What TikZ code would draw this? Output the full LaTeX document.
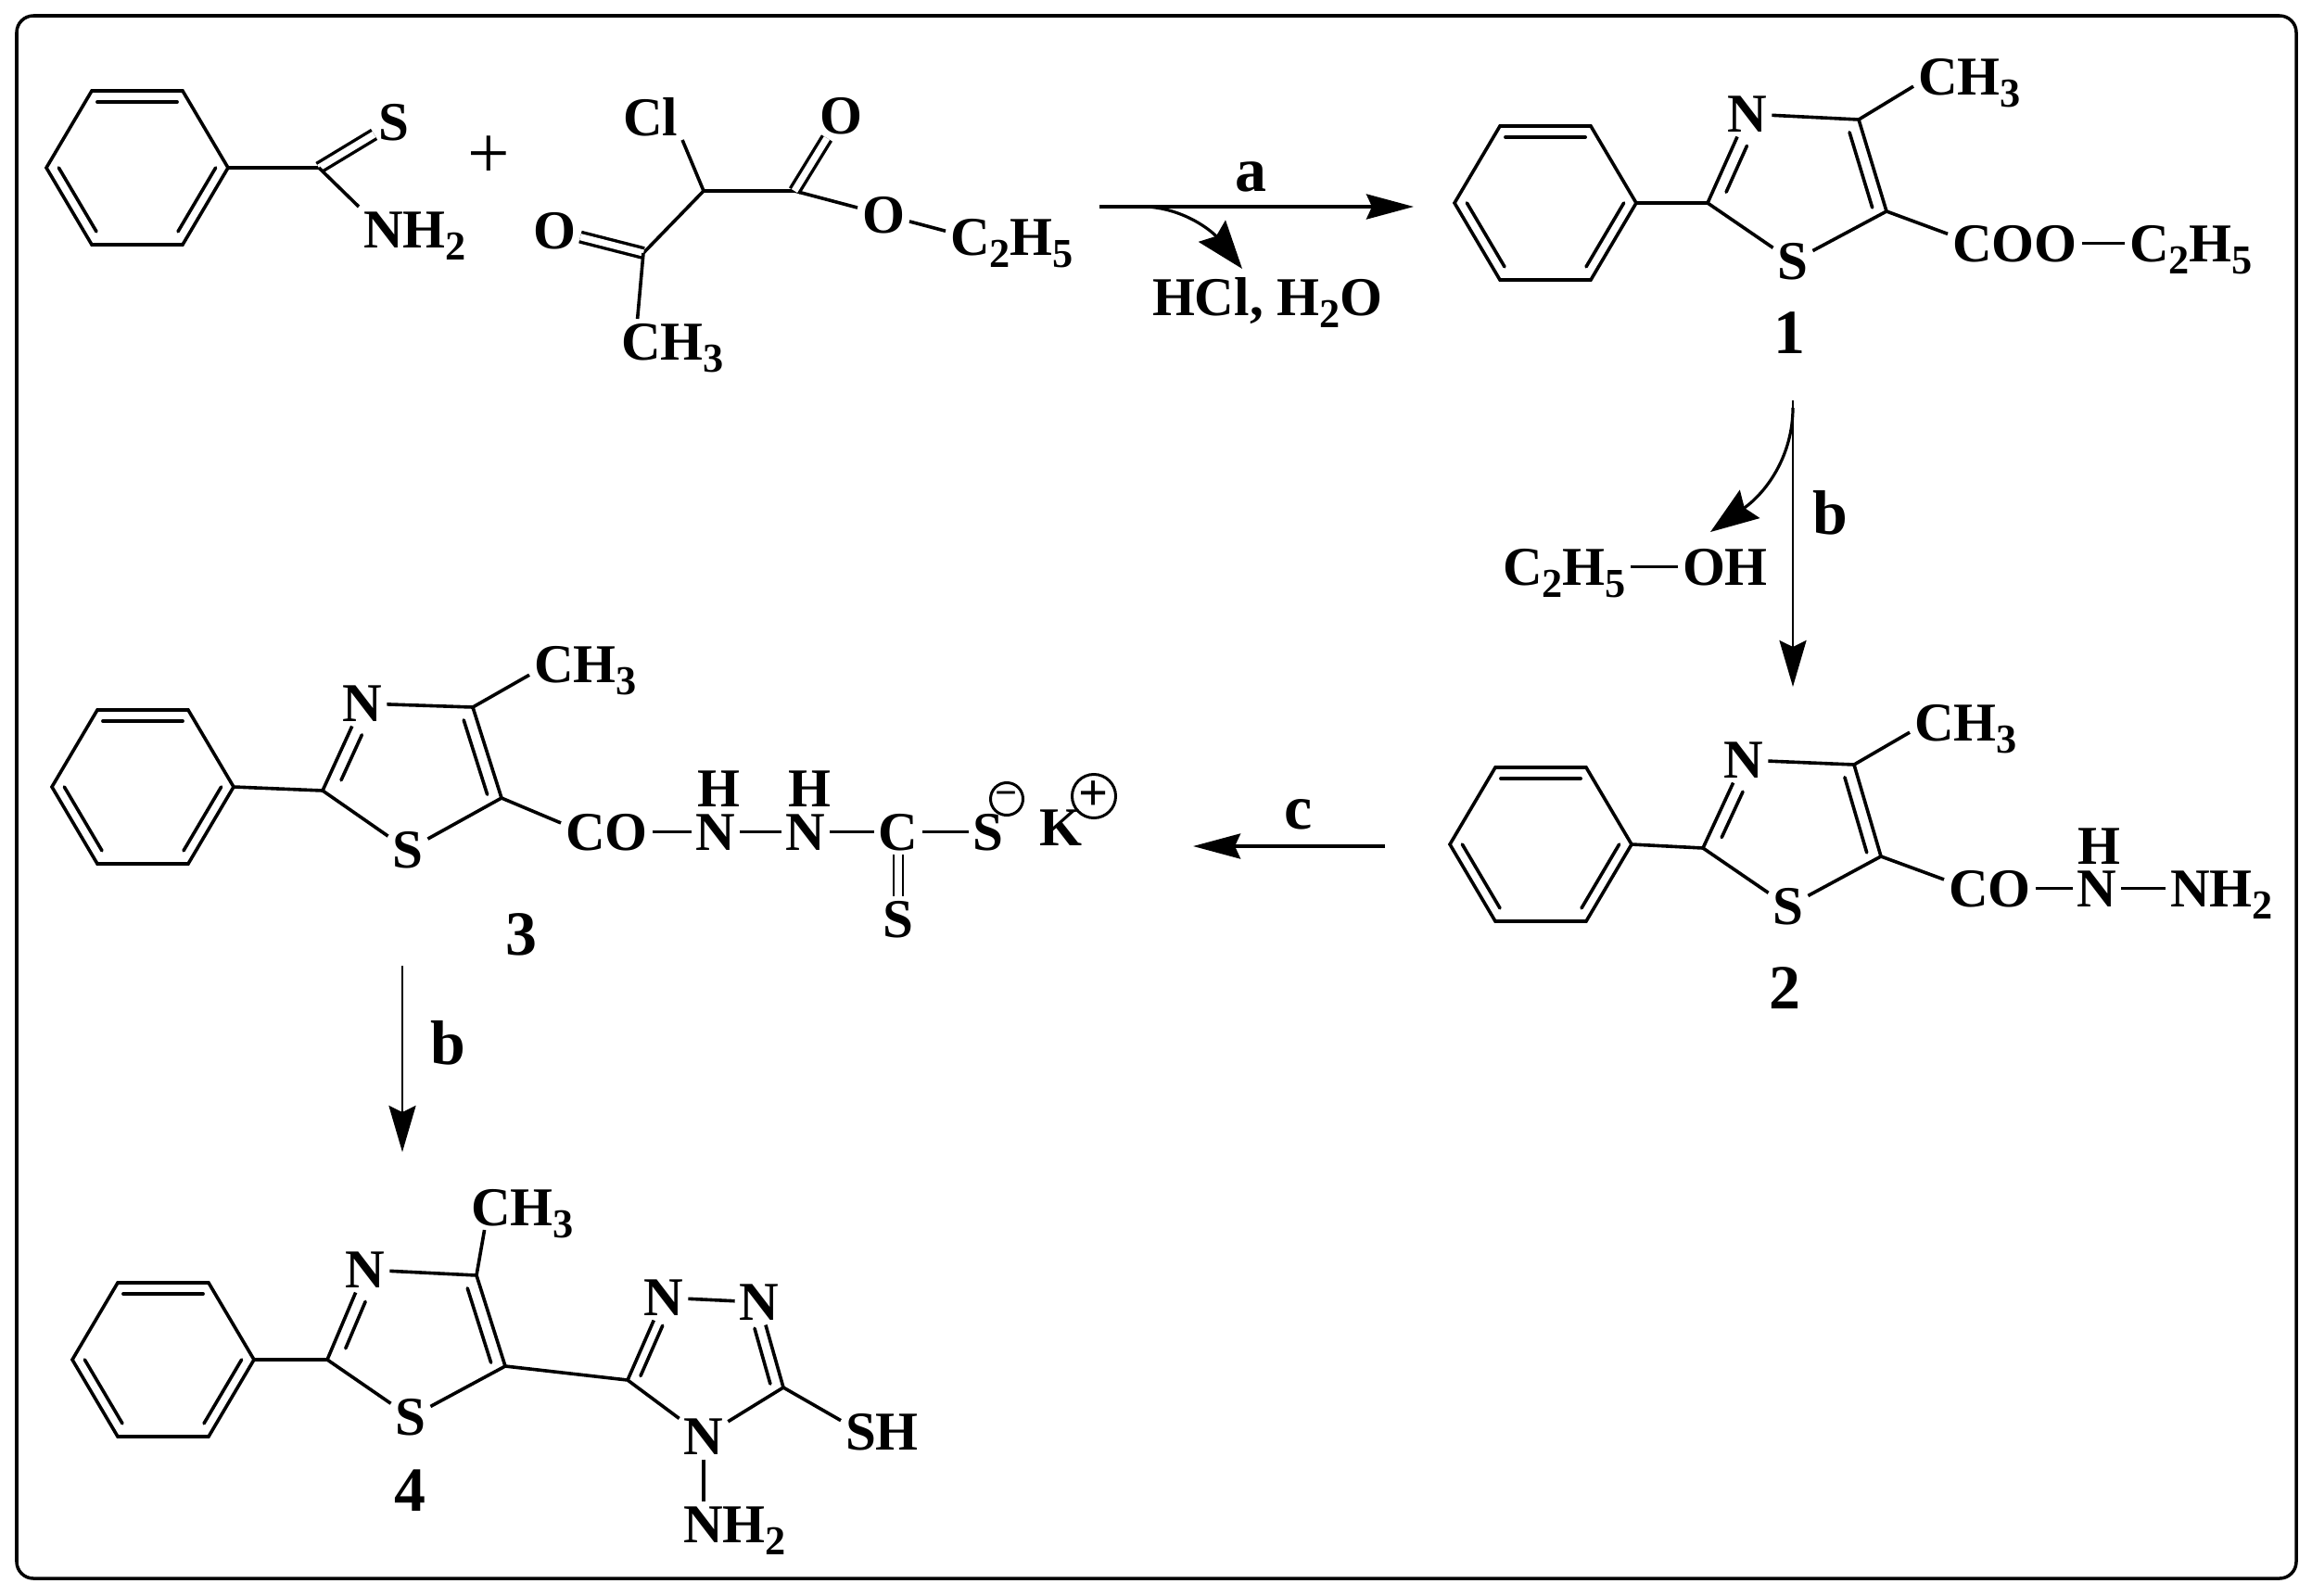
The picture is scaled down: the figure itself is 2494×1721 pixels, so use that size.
\documentclass[tikz,border=0pt]{standalone}
\usepackage{fontspec}
\setmainfont{Liberation Serif}
\usetikzlibrary{arrows.meta,calc}
\newcommand{\chemsub}[1]{\raisebox{-.22em}{\fontsize{12.6}{13}\selectfont #1}}
% inner line of a ring double bond
\newcommand{\ringdbl}[6][.135cm]{\draw[bond,line cap=round] ($(#2)!#4!(#3)!#1!#6:(#3)$) -- ($(#2)!#5!(#3)!#1!#6:(#3)$);}
\newcommand{\thiazole}[1]{
\draw[bond] (ph#1-r) -- (thz#1-c2) -- (thz#1-n);
\draw[bond] (thz#1-c2) -- (thz#1-s);
\draw[bond] (thz#1-s) -- (thz#1-c5) -- (thz#1-c4) -- (thz#1-n);
\ringdbl{thz#1-c2}{thz#1-n}{.18}{.7}{-90}
\ringdbl{thz#1-c4}{thz#1-c5}{.1}{.92}{-90}
}
\tikzset{
>=Stealth,
atom/.style={font=\fontsize{16.8}{20}\selectfont\bfseries,inner sep=.05cm,outer sep=0pt,text height=.39cm,text depth=0pt},
cmpd/.style={font=\fontsize{19.3}{22}\selectfont\bfseries,inner sep=0pt,anchor=base},
bond/.style={line width=.036cm},
dash bond/.style={line width=.038cm},
dbond/.style={line width=.034cm,double,double distance=.072cm},
thick arrow/.style={line width=.038cm,-{Stealth[length=.51cm,width=.27cm,inset=.06cm]}},
thin arrow/.style={line width=.028cm,-{Stealth[length=.5cm,width=.29cm,inset=.07cm]}},
side arrow/.style={line width=.032cm,-{Stealth[length=.52cm,width=.37cm,inset=.07cm]}},
charge/.style={circle,draw,line width=.03cm,inner sep=0pt,font=\bfseries},
frame/.style={line width=.035cm,rounded corners=.18cm},
pics/phring/.style={code={
\coordinate (-tl) at (-49,83);
\coordinate (-tr) at (49,83);
\coordinate (-r) at (98,0);
\coordinate (-br) at (49,-83);
\coordinate (-bl) at (-49,-83);
\coordinate (-l) at (-98,0);
\draw[bond] (-tl) -- (-tr) -- (-r) -- (-br) -- (-bl) -- (-l) -- cycle;
\ringdbl[.12cm]{-tl}{-tr}{.06}{.94}{-90}
\ringdbl[.115cm]{-l}{-bl}{.07}{.9}{90}
\ringdbl[.115cm]{-r}{-br}{.07}{.9}{-90}
}}}
\begin{document}
\begin{tikzpicture}[x=.01cm,y=.01cm]

\path[fill=white,use as bounding box] (0,0) rectangle (2494,-1721);
\draw[frame] (18,-17) rectangle (2477,-1703);

% starting materials
\pic (ph0) at (148,-181) {phring};
\coordinate (thio) at (344,-181);
\node[atom] (s0) at (425,-132) {S};
\node[atom,anchor=west] (nh0) at (387,-247.5) {NH\chemsub{2}};
\draw[bond] (ph0-r) -- (thio);
\draw[dbond] (thio) -- (s0);
\draw[bond] (thio) -- (nh0.north west);

\node[font=\fontsize{23}{26}\selectfont,inner sep=0pt] (plus) at (527,-170) {+};

\coordinate (ccl) at (759,-206);
\coordinate (cest) at (857,-206);
\coordinate (cket) at (694,-273);
\node[atom,anchor=west] (cl) at (667,-126.5) {Cl};
\node[atom] (o1) at (907,-124.5) {O};
\node[atom] (o2) at (598,-248.5) {O};
\node[atom] (o3) at (953,-231.5) {O};
\node[atom,anchor=west] (et0) at (1020,-255.5) {C\chemsub{2}H\chemsub{5}};
\node[atom,anchor=west] (me0) at (665,-368.5) {CH\chemsub{3}};
\draw[bond] (cl.south east) -- (ccl);
\draw[bond] (cket) -- (ccl) -- (cest) -- (o3) -- (et0.175);
\draw[dbond] (cest) -- (o1);
\draw[dbond] (cket) -- (o2);
\draw[bond] (cket) -- (me0.147);

% step a
\coordinate (a0) at (1186,-223);
\coordinate (a1) at (1525,-223);
\coordinate (a2) at (1236,-223);
\coordinate (a3) at (1340,-290);
\draw[thick arrow] (a0) -- (a1);
\draw[side arrow] (a2) .. controls (1278,-225) and (1308,-250) .. (a3);
\node[cmpd] (stepa) at (1349,-206) {a};
\node[atom,anchor=west] (hcl) at (1238,-320.5) {HCl, H\chemsub{2}O};

% compound 1
\pic (ph1) at (1667,-219) {phring};
\coordinate (thz1-c2) at (1842,-219);
\coordinate (thz1-c4) at (2005,-129);
\coordinate (thz1-c5) at (2035,-228);
\node[atom] (thz1-n) at (1885,-123) {N};
\node[atom] (thz1-s) at (1934,-282) {S};
\thiazole{1}
\node[atom,anchor=west] (me1) at (2064,-82.5) {CH\chemsub{3}};
\node[atom,anchor=west] (coo1) at (2101,-262.5) {COO};
\node[atom,anchor=west] (et1) at (2292,-262.5) {C\chemsub{2}H\chemsub{5}};
\draw[bond] (thz1-c4) -- (me1.190);
\draw[bond] (thz1-c5) -- (coo1.172);
\draw[dash bond] (coo1) -- (et1);
\node[cmpd] (lab1) at (1930,-381) {1};

% step b
\coordinate (b0) at (1934,-432);
\coordinate (b1) at (1934,-741);
\coordinate (b2) at (1934,-440);
\coordinate (b3) at (1845,-574);
\draw[thin arrow] (b0) -- (b1);
\draw[side arrow] (b2) .. controls (1934,-490) and (1907,-530) .. (b3);
\node[cmpd] (stepb) at (1974,-576) {b};
\node[atom,anchor=west] (et2) at (1616,-611.5) {C\chemsub{2}H\chemsub{5}};
\node[atom,anchor=west] (oh) at (1810,-611.5) {OH};
\draw[dash bond] (et2) -- (oh);

% compound 2
\pic (ph2) at (1662,-911) {phring};
\coordinate (thz2-c2) at (1837,-915);
\coordinate (thz2-c4) at (2000,-825);
\coordinate (thz2-c5) at (2029,-924);
\node[atom] (thz2-n) at (1881,-820) {N};
\node[atom] (thz2-s) at (1929,-978) {S};
\thiazole{2}
\node[atom,anchor=west] (me2) at (2060,-779.5) {CH\chemsub{3}};
\node[atom,anchor=west] (co2) at (2097,-958.5) {CO};
\node[atom] (nh2) at (2262,-958.5) {N};
\node[atom] (h2) at (2264,-912.5) {H};
\node[atom,anchor=west] (nhh2) at (2336,-958.5) {NH\chemsub{2}};
\draw[bond] (thz2-c4) -- (me2.190);
\draw[bond] (thz2-c5) -- (co2.169);
\draw[dash bond] (co2) -- (nh2);
\draw[dash bond] (nh2) -- (nhh2);
\node[cmpd] (lab2) at (1925,-1088) {2};

% step c
\coordinate (c0) at (1494,-913);
\coordinate (c1) at (1287,-913);
\draw[thick arrow] (c0) -- (c1);
\node[cmpd] (stepc) at (1401,-894) {c};

% compound 3
\pic (ph3) at (154,-849) {phring};
\coordinate (thz3-c2) at (348,-853);
\coordinate (thz3-c4) at (510,-763);
\coordinate (thz3-c5) at (541,-861);
\node[atom] (thz3-n) at (391,-759) {N};
\node[atom] (thz3-s) at (440,-917) {S};
\thiazole{3}
\node[atom,anchor=west] (me3) at (571,-716.5) {CH\chemsub{3}};
\node[atom,anchor=west] (co3) at (605,-897.5) {CO};
\node[atom] (n3a) at (772,-897.5) {N};
\node[atom] (h3a) at (775,-850.5) {H};
\node[atom] (n3b) at (869,-897.5) {N};
\node[atom] (h3b) at (873,-850.5) {H};
\node[atom] (c3) at (969,-897.5) {C};
\node[atom] (s3a) at (1066,-897.5) {S};
\node[atom] (s3b) at (969,-992) {S};
\node[atom] (k3) at (1144,-892.5) {K};
\node[charge,minimum size=.35cm,font=\fontsize{12}{12}\selectfont\bfseries] (neg) at (1086,-862) {−};
\node[charge,minimum size=.47cm,font=\fontsize{16}{16}\selectfont\bfseries] (pos) at (1180,-859) {+};
\draw[bond] (thz3-c4) -- (me3.191);
\draw[bond] (thz3-c5) -- (co3.169);
\draw[dash bond] (co3) -- (n3a);
\draw[dash bond] (n3a) -- (n3b);
\draw[dash bond] (n3b) -- (c3);
\draw[dash bond] (c3) -- (s3a);
\draw[line width=.025cm,double,double distance=.075cm] (c3) -- (s3b);
\node[cmpd] (lab3) at (562,-1030) {3};

% second step b
\coordinate (d0) at (434,-1042);
\coordinate (d1) at (434,-1243);
\draw[thin arrow] (d0) -- (d1);
\node[cmpd] (stepd) at (483,-1148) {b};

% compound 4
\pic (ph4) at (176,-1467) {phring};
\coordinate (thz4-c2) at (353,-1467);
\coordinate (thz4-c4) at (514,-1376);
\coordinate (thz4-c5) at (545,-1474);
\node[atom] (thz4-n) at (394,-1370) {N};
\node[atom] (thz4-s) at (443,-1529) {S};
\thiazole{4}
\node[atom,anchor=west] (me4) at (503,-1302.5) {CH\chemsub{3}};
\draw[bond] (thz4-c4) -- (me4.211);
\coordinate (trz-c3) at (677,-1489);
\coordinate (trz-c5) at (845,-1497);
\node[atom] (trz-n1) at (716,-1400) {N};
\node[atom] (trz-n2) at (819,-1405) {N};
\node[atom] (trz-n4) at (759,-1550) {N};
\node[atom,anchor=west] (sh) at (907,-1544.5) {SH};
\node[atom,anchor=west] (nh4) at (732,-1644.5) {NH\chemsub{2}};
\draw[bond] (thz4-c5) -- (trz-c3) -- (trz-n1) -- (trz-n2) -- (trz-c5) -- (trz-n4) -- (trz-c3);
\ringdbl[.11cm]{trz-c3}{trz-n1}{.1}{.71}{-90}
\ringdbl[.125cm]{trz-n2}{trz-c5}{.27}{.92}{-90}
\draw[bond] (trz-c5) -- (sh.165);
\draw[bond] (trz-n4) -- (nh4.north -| trz-n4);
\node[cmpd] (lab4) at (442,-1630) {4};

\end{tikzpicture}
\end{document}
